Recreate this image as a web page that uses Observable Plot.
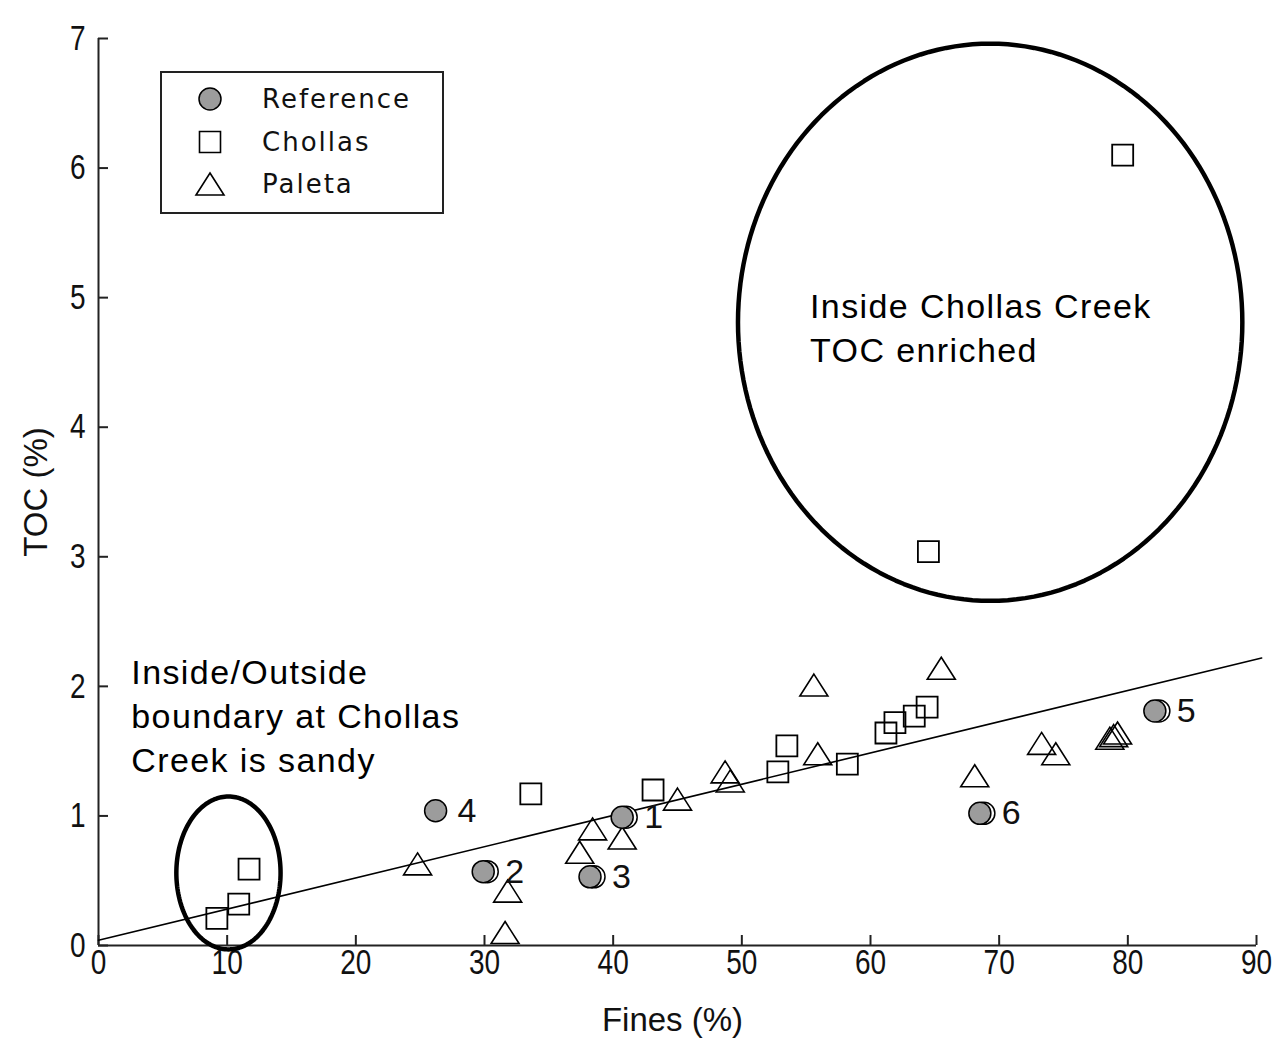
<!DOCTYPE html>
<html>
<head>
<meta charset="utf-8">
<script src="https://cdn.jsdelivr.net/npm/d3@7"></script>
<script src="https://cdn.jsdelivr.net/npm/@observablehq/plot@0.6"></script>
<style>
  body { margin: 0; background: #fff; }
  #chart svg { display: block; }
</style>
</head>
<body>
<div id="chart"></div>
<script>
// Axis ticks
const xTicks = [0, 10, 20, 30, 40, 50, 60, 70, 80, 90];
const yTicks = [0, 1, 2, 3, 4, 5, 6, 7];

// Reference stations (numbered)
const referenceIds = ["1", "2", "3", "4", "5", "6"];
const referenceFines = [40.7, 29.9, 38.2, 26.2, 82.1, 68.5];
const referenceToc = [0.99, 0.57, 0.53, 1.04, 1.81, 1.02];
const referencePaired = [true, true, true, false, true, true];

// Chollas Creek stations
const chollasFines = [9.2, 10.9, 11.7, 33.6, 43.1, 52.8, 53.5, 58.2, 61.2, 61.9, 63.4, 64.4, 64.5, 79.6];
const chollasToc = [0.21, 0.32, 0.59, 1.17, 1.20, 1.34, 1.54, 1.40, 1.64, 1.72, 1.77, 1.84, 3.04, 6.10];

// Paleta Creek stations
const paletaFines = [24.8, 31.8, 31.6, 37.4, 38.4, 40.7, 45.0, 48.7, 49.1, 55.6, 55.9, 65.5, 68.1, 73.3, 74.4, 78.6, 78.9, 79.2];
const paletaToc = [0.63, 0.42, 0.10, 0.72, 0.90, 0.83, 1.13, 1.34, 1.27, 2.01, 1.48, 2.14, 1.31, 1.56, 1.48, 1.60, 1.62, 1.64];

// Linear fit of TOC on fines, all stations
const fitIntercept = 0.04;
const fitSlope = 0.0241;
const fitFinesRange = [0, 90.4];

// Highlight ellipses (centre and half-axes in data units)
const ellipseNames = ["enriched", "sandy"];
const ellipseCx = [69.3, 10.1];
const ellipseCy = [4.81, 0.56];
const ellipseRx = [19.6, 4.05];
const ellipseRy = [2.15, 0.59];

// Annotations
const noteTexts = ["Inside Chollas Creek\nTOC enriched", "Inside/Outside\nboundary at Chollas\nCreek is sandy"];
const noteFines = [55.3, 2.55];
const noteToc = [5.085, 2.26];

const seriesNames = ["Reference", "Chollas", "Paleta"];

// ---- derived tables ----
const reference = referenceIds.map((id, i) => ({id, fines: referenceFines[i], toc: referenceToc[i], paired: referencePaired[i]}));
const chollas = chollasFines.map((f, i) => ({fines: f, toc: chollasToc[i]}));
const paleta = paletaFines.map((f, i) => ({fines: f, toc: paletaToc[i]}));
const fit = fitFinesRange.map(f => ({fines: f, toc: fitIntercept + fitSlope * f}));
const ellipsePts = ellipseNames.flatMap((name, k) =>
  d3.range(0, 181).map(j => {
    const t = (j / 180) * 2 * Math.PI;
    return {name, fines: ellipseCx[k] + ellipseRx[k] * Math.cos(t), toc: ellipseCy[k] + ellipseRy[k] * Math.sin(t)};
  })
);
const notes = noteTexts.map((text, i) => ({text, fines: noteFines[i], toc: noteToc[i]}));

// ---- marker shapes ----
const squareSymbol = {
  draw(ctx) { const h = 10.5; ctx.moveTo(-h, -h); ctx.lineTo(h, -h); ctx.lineTo(h, h); ctx.lineTo(-h, h); ctx.closePath(); }
};
const triangleSymbol = {
  draw(ctx) { ctx.moveTo(0, -11); ctx.lineTo(14, 11); ctx.lineTo(-14, 11); ctx.closePath(); }
};

const tickFont = "'Liberation Sans', Arial, sans-serif";
const textFont = "'Liberation Sans', Arial, sans-serif";

const plot = Plot.plot({
  width: 1288,
  height: 1040,
  marginLeft: 98,
  marginRight: 32,
  marginTop: 38,
  marginBottom: 95,
  x: {domain: [0, 90]},
  y: {domain: [0, 7]},
  style: {fontFamily: textFont, background: "#fff", color: "#000"},
  marks: [
    // axis frame lines
    Plot.ruleY([0], {stroke: "#222", strokeWidth: 2}),
    Plot.ruleX([0], {stroke: "#222", strokeWidth: 2}),
    // inward ticks
    Plot.axisX(xTicks, {tickSize: -10, text: null, stroke: "#222", strokeWidth: 2, label: null}),
    Plot.axisY(yTicks, {tickSize: -10, text: null, stroke: "#222", strokeWidth: 2, label: null}),
    // tick labels
    Plot.axisX(xTicks, {tickSize: 0, tickPadding: 4, label: null, tickFormat: d3.format("d"), fontSize: 35, fontFamily: tickFont, fill: "#111"}),
    Plot.axisY(yTicks, {tickSize: 0, tickPadding: 13, label: null, tickFormat: d3.format("d"), fontSize: 35, fontFamily: tickFont, fill: "#111"}),
    // axis titles
    Plot.text(["Fines (%)"], {frameAnchor: "bottom", dy: 75, dx: -5, textAnchor: "middle", lineAnchor: "middle", fontSize: 33, fill: "#111"}),
    Plot.text(["TOC (%)"], {frameAnchor: "left", dx: -62, rotate: -90, textAnchor: "middle", lineAnchor: "middle", fontSize: 33, fill: "#111"}),
    // ellipses
    Plot.line(ellipsePts, {x: "fines", y: "toc", z: "name", stroke: "#000", strokeWidth: 4.5, clip: false}),
    // regression line
    Plot.line(fit, {x: "fines", y: "toc", stroke: "#000", strokeWidth: 1.6}),
    // paleta
    Plot.dot(paleta, {x: "fines", y: "toc", symbol: triangleSymbol, fill: "#fff", fillOpacity: 0, stroke: "#000", strokeWidth: 1.6}),
    // chollas
    Plot.dot(chollas, {x: "fines", y: "toc", symbol: squareSymbol, fill: "#fff", fillOpacity: 0, stroke: "#000", strokeWidth: 1.8}),
    // reference (paired samples sit just behind)
    Plot.dot(reference.filter(d => d.paired), {x: "fines", y: "toc", r: 11, dx: 4, fill: "#fff", stroke: "#000", strokeWidth: 1.5}),
    Plot.dot(reference, {x: "fines", y: "toc", r: 11, fill: "#9c9c9c", stroke: "#000", strokeWidth: 1.5}),
    Plot.text(reference, {x: "fines", y: "toc", text: "id", dx: 22, textAnchor: "start", fontSize: 34, fontFamily: tickFont, fill: "#111", ariaLabel: "station ids"}),
    // annotations
    Plot.text(notes, {x: "fines", y: "toc", text: "text", textAnchor: "start", lineAnchor: "top", lineHeight: 1.3, fontSize: 34, fill: "#000", ariaLabel: "notes"})
  ]
});

const svg = d3.select(plot);

// narrow the tick and station-id digits
svg.selectAll('g[aria-label="x-axis tick label"] text, g[aria-label="y-axis tick label"] text, g[aria-label="station ids"] text')
  .each(function () {
    const t = this.getAttribute("transform") || "";
    this.setAttribute("transform", `${t} scale(0.8,1)`);
  });
// widen the annotation lettering
svg.selectAll("text")
  .filter(function () { return /Inside|boundary|Creek|enriched/.test(this.textContent); })
  .style("letter-spacing", "1.4px");

// legend box inside the plot area
const lg = svg.append("g").attr("class", "legend");
lg.append("rect").attr("x", 161).attr("y", 72).attr("width", 282).attr("height", 141)
  .attr("fill", "#fff").attr("stroke", "#222").attr("stroke-width", 2);
const rowY = [99, 142, 184];
seriesNames.forEach((name, i) => {
  const cx = 210, cy = rowY[i];
  if (i === 0) {
    lg.append("circle").attr("cx", cx).attr("cy", cy).attr("r", 11).attr("fill", "#9c9c9c").attr("stroke", "#000").attr("stroke-width", 1.5);
  } else {
    const p = d3.path();
    (i === 1 ? squareSymbol : triangleSymbol).draw(p);
    lg.append("path").attr("d", p.toString()).attr("transform", `translate(${cx},${cy})`)
      .attr("fill", "none").attr("stroke", "#000").attr("stroke-width", 1.6);
  }
  lg.append("text").attr("x", 262).attr("y", cy).attr("dy", "0.35em")
    .attr("text-anchor", "start")
    .attr("font-family", "'DejaVu Sans', sans-serif").attr("font-size", 26).attr("letter-spacing", 2)
    .attr("fill", "#111").text(name);
});

document.getElementById("chart").appendChild(plot);
</script>
</body>
</html>
